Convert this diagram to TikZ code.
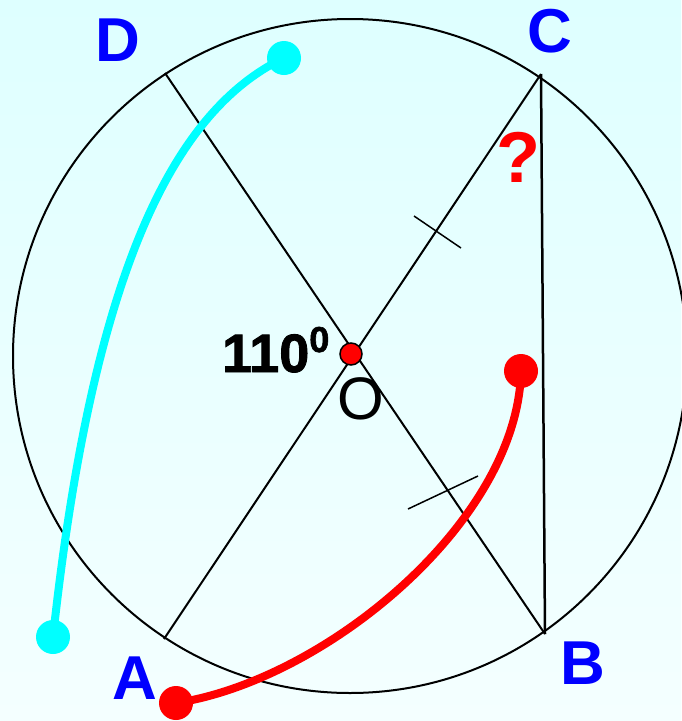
\documentclass[tikz,border=0pt]{standalone}
\usepackage{fontspec}
\setmainfont{Liberation Sans}
\newfontfamily\heavysans[FakeBold=1.6]{Liberation Sans Bold}
\definecolor{ptblue}{RGB}{0,0,255}
\definecolor{ptred}{RGB}{255,0,0}
\definecolor{ptcyan}{RGB}{0,255,255}
\definecolor{bgtop}{RGB}{222,255,255}
\definecolor{bgbot}{RGB}{244,255,255}
\begin{document}
\begin{tikzpicture}[x=1pt,y=-1pt,
  thinline/.style={line width=2pt, black},
  tickline/.style={line width=1.5pt, black},
  cyancurve/.style={line width=8pt, ptcyan},
  redcurve/.style={line width=8pt, ptred},
  cyandot/.style={circle, fill=ptcyan, minimum size=34pt, inner sep=0pt},
  reddot/.style={circle, fill=ptred, minimum size=34pt, inner sep=0pt},
  odot/.style={circle, fill=ptred, draw=black, line width=1.5pt, minimum size=22pt, inner sep=0pt},
  ptlabel/.style={font=\fontsize{62}{62}\selectfont\bfseries, text=ptblue, inner sep=0pt},
]
\useasboundingbox (0,0) rectangle (681,721);
\shade[top color=bgtop, bottom color=bgbot] (0,0) rectangle (681,721);

\coordinate (O) at (351,354);
\coordinate (A) at (164,639);
\coordinate (B) at (545,634);
\coordinate (C) at (541,74);
\coordinate (D) at (165,73);
\coordinate (ctr) at (350,356);

\draw[thinline] (ctr) circle[radius=337pt];

\draw[thinline] (D) -- (B);
\draw[thinline] (A) -- (C);
\draw[line width=2.5pt] (C) -- (B);

\coordinate (t1a) at (414,216);
\coordinate (t1b) at (461,248);
\coordinate (t2a) at (408,509);
\coordinate (t2b) at (478,476);
\draw[tickline] (t1a) -- (t1b);
\draw[tickline] (t2a) -- (t2b);

\node[cyandot] (cyTop) at (284,58) {};
\node[cyandot] (cyBot) at (53,637) {};
\draw[cyancurve] (cyTop.center) .. controls (167,114) and (91,288) .. (cyBot.center);

\node[reddot] (rTop) at (521,371) {};
\node[reddot] (rA) at (176,703) {};
\draw[redcurve] (rTop.center) .. controls (518,521) and (326,680) .. (rA.center);

\node[odot] (Odot) at (O) {};

\node[ptlabel] (lD) at (118,40) {D};
\node[ptlabel] (lC) at (550,31) {C};
\node[ptlabel] (lA) at (135,678) {A};
\node[ptlabel] (lB) at (583,663) {B};
\node[inner sep=0pt, text=ptred, font=\fontsize{72}{72}\selectfont\bfseries] (q) at (518,157) {?};
\node[inner sep=0pt, font=\fontsize{60}{60}\selectfont] (lO) at (361,399) {O};
\node[inner sep=0pt, anchor=base west, font=\fontsize{54}{54}\selectfont\heavysans] (ang) at (222,372) {110\raisebox{20pt}{\fontsize{36}{36}\selectfont 0}};
\end{tikzpicture}
\end{document}
